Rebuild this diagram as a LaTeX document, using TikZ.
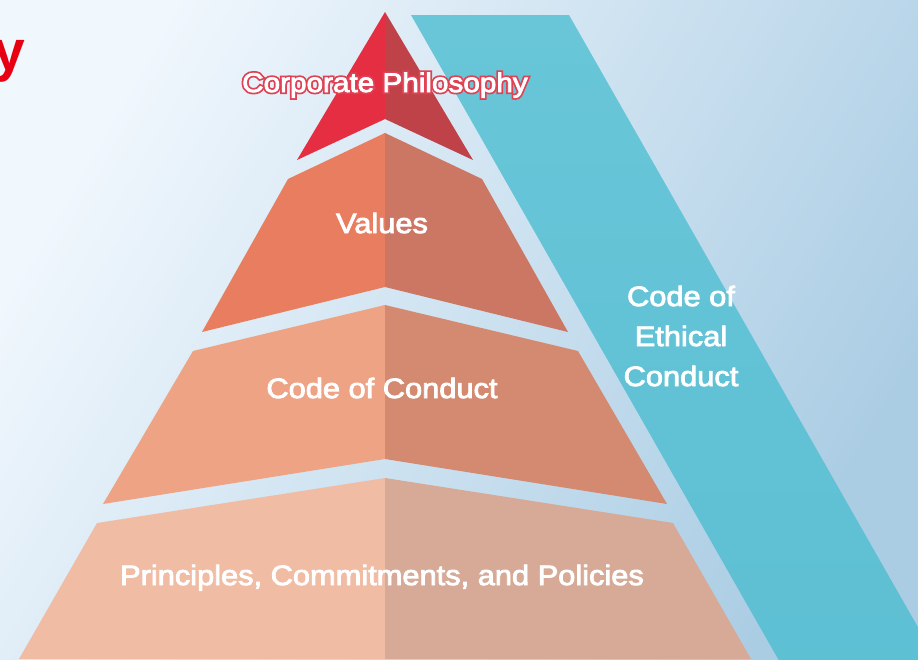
\documentclass[tikz,border=0pt]{standalone}
\usepackage{fontspec}
\setmainfont{Liberation Sans}
\newfontfamily\lblfont[FakeStretch=1.1,FakeBold=3]{Liberation Sans}
\newfontfamily\halofont[FakeStretch=1.1,FakeBold=16]{Liberation Sans}
\newfontfamily\ttlfont{Liberation Sans Bold}
\definecolor{bgA}{HTML}{F0F7FD}
\definecolor{bgB}{HTML}{ABCDE4}
\definecolor{topL}{HTML}{E52E42}
\definecolor{topR}{HTML}{BF4249}
\definecolor{valL}{HTML}{E97D5F}
\definecolor{valR}{HTML}{CC7763}
\definecolor{cocL}{HTML}{EEA385}
\definecolor{cocR}{HTML}{D48A71}
\definecolor{polL}{HTML}{F0BCA4}
\definecolor{polR}{HTML}{D6AA96}
\definecolor{bandA}{HTML}{68C6D8}
\definecolor{bandB}{HTML}{5DBFD3}
\definecolor{titleRed}{HTML}{E60012}
\definecolor{haloRed}{HTML}{DE4254}
\tikzset{
  lbl/.style={text=white, font=\lblfont\fontsize{28}{34}\selectfont, inner sep=0pt, anchor=base},
  toplbl/.style={text=white, font=\lblfont\fontsize{27}{32}\selectfont, inner sep=0pt, anchor=base},
  halo/.style={text=haloRed, font=\halofont\fontsize{27}{32}\selectfont, inner sep=0pt, anchor=base},
}
\begin{document}
\begin{tikzpicture}[x=1pt,y=-1pt]
\useasboundingbox (0,0) rectangle (918,659);
\clip (0,0) rectangle (918,659);
% background
\shade[left color=bgA, right color=bgB, shading angle=60] (0,0) rectangle (918,659);
% band
\shade[top color=bandA, bottom color=bandB] (411,15) -- (569,15) -- (968,715) -- (810,715) -- cycle;
% top triangle
\fill[topL] (385,12) -- (297,160) -- (385,119) -- cycle;
\fill[topR] (385,12) -- (473,160) -- (385,119) -- cycle;
% values
\fill[valL] (385,133) -- (288,179) -- (202,332) -- (385,287) -- cycle;
\fill[valR] (385,133) -- (482,179) -- (568,332) -- (385,287) -- cycle;
% code of conduct
\fill[cocL] (385,305) -- (193,351) -- (103,504) -- (385,459) -- cycle;
\fill[cocR] (385,305) -- (578,351) -- (667,504) -- (385,459) -- cycle;
% policies
\fill[polL] (385,478) -- (97,523) -- (19,659) -- (385,659) -- cycle;
\fill[polR] (385,478) -- (673,523) -- (751,659) -- (385,659) -- cycle;
% texts
\node[text=titleRed, font=\ttlfont\fontsize{57}{60}\selectfont, inner sep=0pt, anchor=base east] (ttl) at (25,70) {y};
\node[halo] (cphalo) at (385,92) {Corporate Philosophy};
\node[toplbl] (cp) at (385,92) {Corporate Philosophy};
\node[lbl] (val) at (382,233) {Values};
\node[lbl] (coc) at (382,398) {Code of Conduct};
\node[lbl] (pol) at (382,585) {Principles, Commitments, and Policies};
\node[lbl] (eth1) at (681,306) {Code of};
\node[lbl] (eth2) at (681,346) {Ethical};
\node[lbl] (eth3) at (681,386) {Conduct};
\end{tikzpicture}
\end{document}
